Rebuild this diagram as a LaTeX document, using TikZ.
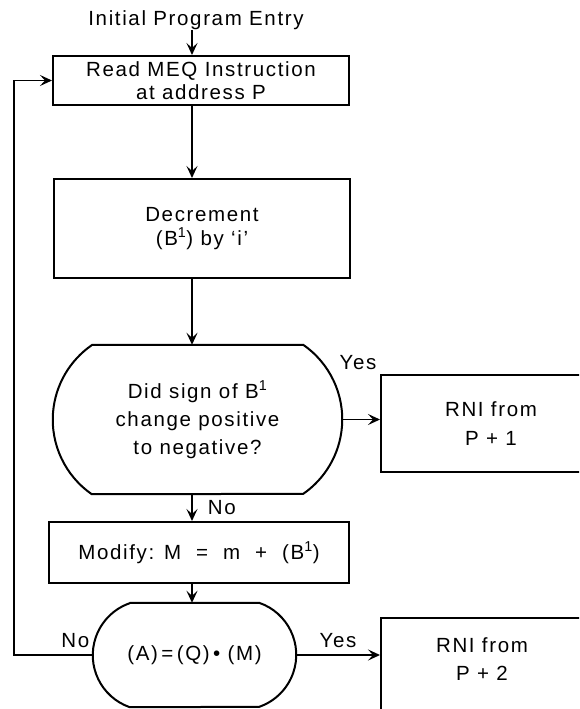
\documentclass[tikz,border=0pt]{standalone}
\usepackage{fontspec}
\setmainfont{Liberation Sans}[LetterSpace=8]
\usetikzlibrary{positioning,arrows.meta,calc}

\begin{document}
\begin{tikzpicture}[x=1pt,y=-1pt,
    font=\fontsize{20.5}{23}\selectfont,
    box/.style={draw,line width=2pt,rectangle,align=center,inner sep=0pt},
    dec/.style={align=center,inner sep=0pt},
    outline/.style={line width=2pt,line join=round},
    arr/.style={-{Stealth[length=12pt,width=11pt,inset=5pt]},line width=1.8pt},
    lbl/.style={inner sep=0pt}]
            \useasboundingbox[fill=white] (0,0) rectangle (579,709);
            \clip (0,0) rectangle (579,709);
            \coordinate (spine) at (192,0);
            % main column
            \node[lbl,anchor=base] (entry) at (196,26) {Initial Program Entry};
            \node[box,minimum width=296,minimum height=49] (read) at (201,80.5) {Read MEQ Instruction\\at address P};
            \node[box,minimum width=296,minimum height=99,font=\fontsize{20.5}{24}\selectfont] (decr) at (202,228.5) {Decrement\\(B\textsuperscript{1}) by `i'};
            \node[dec,minimum width=289,minimum height=149,font=\fontsize{20.5}{28}\selectfont] (sign) at (197.5,419.5) {Did sign of B\textsuperscript{1}\\change positive\\to negative?};
            \node[box,minimum width=300,minimum height=61] (modify) at (199,552.5) {Modify: M\hspace{15pt}=\hspace{15pt}m\hspace{15pt}+\hspace{15pt}(B\textsuperscript{1})};
            \node[dec,minimum width=203,minimum height=104] (test) at (194.5,655) {(A)\,=\,(Q)\,\textbullet\ (M)};
            % exits
            \node[box,anchor=west,minimum width=220,minimum height=97,font=\fontsize{20.5}{29}\selectfont] (rni1) at (380,423.5) {RNI from\\P + 1};
            \node[box,anchor=north west,minimum width=220,minimum height=110] (rni2) at (380,617) {};
            \node[dec,font=\fontsize{20.5}{28}\selectfont] (rni2txt) at (482,659.5) {RNI from\\P + 2};
            % decision outlines
            \draw[outline] ([xshift=39pt]sign.north west) -- ([xshift=-39pt]sign.north east)
                arc[start angle=55.3,end angle=-55.3,radius=90.66pt]
                -- ([xshift=39pt]sign.south west)
                arc[start angle=235.3,end angle=124.7,radius=90.66pt] -- cycle;
            \draw[outline] ([xshift=37pt]test.north west) -- ([xshift=-37pt]test.north east)
                arc[start angle=70.9,end angle=-70.9,radius=55.04pt]
                -- ([xshift=37pt]test.south west)
                arc[start angle=250.9,end angle=109.1,radius=55.04pt] -- cycle;
            % connectors
            \draw[arr] (entry.south -| spine) -- (read.north -| spine);
            \draw[arr] (read.south -| spine) -- (decr.north -| spine);
            \draw[arr] (decr.south -| spine) -- (sign.north -| spine);
            \draw[arr] (sign.south -| spine) -- node[lbl,right=15pt] {No} (modify.north -| spine);
            \draw[arr] (modify.south -| spine) -- (test.north -| spine);
            \draw[arr] (sign.east) -- (sign.east -| rni1.west);
            \node[lbl] (yes1) at (358,363) {Yes};
            \draw[arr] (test.east) -- node[lbl,above=6pt] {Yes} (test.east -| rni2.west);
            \draw[arr] (test.west) -- node[lbl,pos=0.22,above=6pt] {No} ++(-79,0) |- (read.west);
\end{tikzpicture}
\end{document}
